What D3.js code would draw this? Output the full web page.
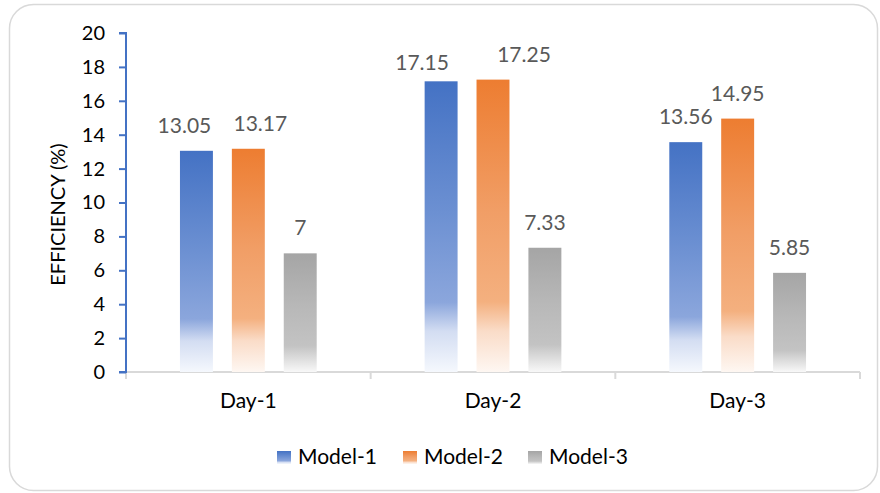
<!DOCTYPE html>
<html>
<head>
<meta charset="utf-8">
<script src="https://cdn.jsdelivr.net/npm/d3@7"></script>
<style>
  html, body { margin: 0; padding: 0; background: #fff; }
  svg { display: block; font-family: Lato, "Open Sans", sans-serif; }
</style>
</head>
<body>
<svg id="chart" width="880" height="493"></svg>
<script>
// Efficiency per day for each model
const days = ["Day-1", "Day-2", "Day-3"];
const models = ["Model-1", "Model-2", "Model-3"];
const model1 = [13.05, 17.15, 13.56];
const model2 = [13.17, 17.25, 14.95];
const model3 = [7, 7.33, 5.85];
const yTicks = [0, 2, 4, 6, 8, 10, 12, 14, 16, 18, 20];

// label nudges [dx, dy] per day / model, keeping crowded labels apart
const labelNudge = [
  [[-12, 0], [12, 0], [0, 0]],
  [[-19, 7], [31, 0], [0, 0]],
  [[0, 0], [0, 0], [0, 0]]
];

const seriesValues = [model1, model2, model3];
const rows = days.map((d, i) => ({
  day: d,
  values: models.map((m, j) => ({ model: m, idx: j, value: seriesValues[j][i], nudge: labelNudge[i][j] }))
}));

const svg = d3.select("#chart");
const x0 = 126, x1 = 860, yTop = 33, yBot = 372;

// chart frame
svg.append("rect")
  .attr("x", 9.5).attr("y", 4.5)
  .attr("width", 868).attr("height", 486)
  .attr("rx", 24).attr("ry", 24)
  .attr("fill", "#fff")
  .attr("stroke", "#D9D9D9")
  .attr("stroke-width", 1.5);

// gradients per series
const gradStops = [
  [["0", "#4472C4"], ["0.45", "#6C90D2"], ["0.76", "#8BA6DC"], ["0.86", "#D3DDF2"], ["1", "#F5F8FD"]],
  [["0", "#ED7D31"], ["0.45", "#F19E66"], ["0.76", "#F4B07F"], ["0.86", "#FADCC8"], ["1", "#FEF7F2"]],
  [["0", "#A5A5A5"], ["0.45", "#B8B8B8"], ["0.78", "#C3C3C3"], ["0.9", "#E0E0E0"], ["1", "#F8F8F8"]]
];
const defs = svg.append("defs");
gradStops.forEach((stops, j) => {
  const g = defs.append("linearGradient")
    .attr("id", "grad" + j)
    .attr("x1", 0).attr("y1", 0).attr("x2", 0).attr("y2", 1);
  stops.forEach(s => g.append("stop").attr("offset", s[0]).attr("stop-color", s[1]));
});

const x = d3.scaleBand().domain(days).range([x0, x1]).paddingInner(0).paddingOuter(0);
const xi = d3.scaleBand().domain(models).range([0, x.bandwidth()])
  .paddingInner(0.365).paddingOuter(1.04);
const y = d3.scaleLinear().domain([0, 20]).range([yBot, yTop]);

// x axis: light baseline with boundary ticks
const xAxisG = svg.append("g");
xAxisG.append("line")
  .attr("x1", x0).attr("x2", x1).attr("y1", yBot).attr("y2", yBot)
  .attr("stroke", "#D9D9D9").attr("stroke-width", 2);
const bounds = days.map(d => x(d)).concat([x(days[days.length - 1]) + x.bandwidth()]);
xAxisG.selectAll(".bt").data(bounds).join("line")
  .attr("x1", d => d).attr("x2", d => d)
  .attr("y1", yBot).attr("y2", yBot + 7)
  .attr("stroke", "#D9D9D9").attr("stroke-width", 2);
xAxisG.selectAll(".cl").data(days).join("text")
  .attr("x", d => x(d) + x.bandwidth() / 2)
  .attr("y", 408)
  .attr("text-anchor", "middle")
  .attr("font-size", 21)
  .attr("fill", "#000")
  .text(d => d);

// bars
const groups = svg.selectAll(".day").data(rows).join("g")
  .attr("transform", d => `translate(${x(d.day)},0)`);
groups.selectAll("rect").data(d => d.values).join("rect")
  .attr("x", d => xi(d.model))
  .attr("width", xi.bandwidth())
  .attr("y", d => y(d.value))
  .attr("height", d => y(0) - y(d.value))
  .attr("fill", d => `url(#grad${d.idx})`);

// value labels
groups.selectAll("text").data(d => d.values).join("text")
  .attr("x", d => xi(d.model) + xi.bandwidth() / 2 + d.nudge[0])
  .attr("y", d => y(d.value) - 18 + d.nudge[1])
  .attr("text-anchor", "middle")
  .attr("font-size", 21)
  .attr("fill", "#595959")
  .text(d => d.value);

// y axis
const yAxis = d3.axisLeft(y).tickValues(yTicks).tickSize(7).tickPadding(14);
const yG = svg.append("g").attr("transform", `translate(${x0},0)`).call(yAxis);
yG.select(".domain").attr("stroke", "#4472C4").attr("stroke-width", 2)
  .attr("d", `M-7,${yTop}H0V${yBot}H-7`);
yG.selectAll(".tick line").attr("stroke", "#4472C4").attr("stroke-width", 2);
yG.selectAll(".tick text")
  .attr("font-size", 20)
  .attr("font-family", "Lato, 'Open Sans', sans-serif")
  .attr("fill", "#000");

// y axis title
svg.append("text")
  .attr("transform", `translate(65,${(yTop + yBot) / 2 + 12}) rotate(-90)`)
  .attr("text-anchor", "middle")
  .attr("font-size", 20)
  .attr("fill", "#000")
  .text("EFFICIENCY (%)");

// legend
const legendX = [277, 403, 528];
const legend = svg.selectAll(".lg").data(models).join("g")
  .attr("transform", (d, i) => `translate(${legendX[i]},451)`);
legend.append("rect")
  .attr("width", 14).attr("height", 13)
  .attr("fill", (d, i) => `url(#grad${i})`);
legend.append("text")
  .attr("x", 21).attr("y", 13)
  .attr("font-size", 21)
  .attr("fill", "#000")
  .text(d => d);
</script>
</body>
</html>
